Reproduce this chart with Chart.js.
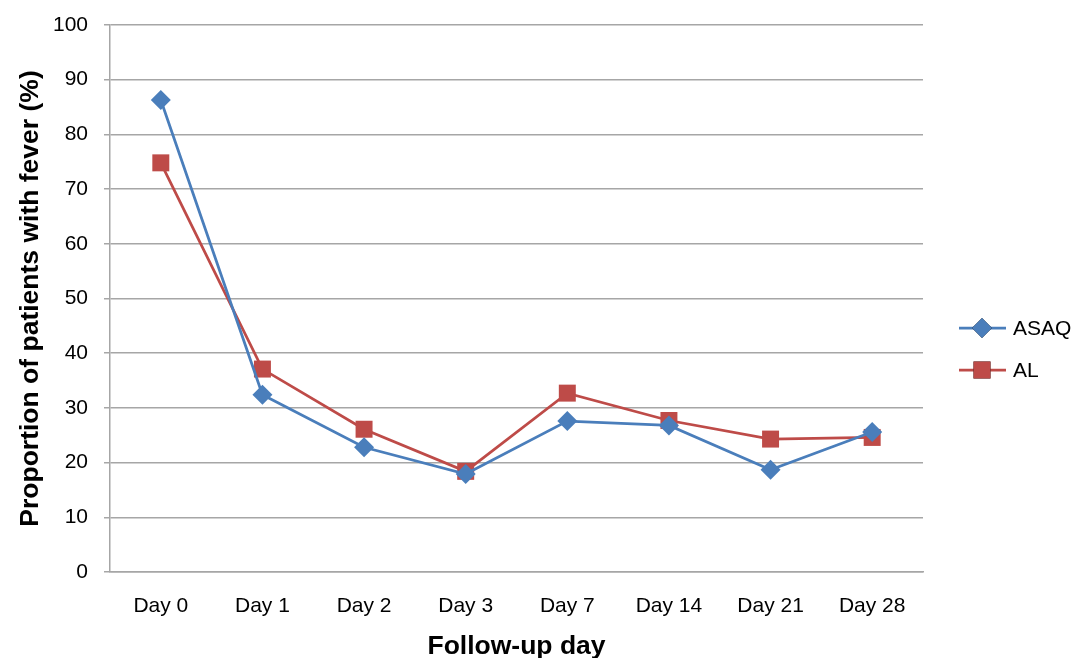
<!DOCTYPE html>
<html>
<head>
<meta charset="utf-8">
<script src="https://cdn.jsdelivr.net/npm/chart.js@4"></script>
<style>
  html, body { margin: 0; padding: 0; background: #fff; }
  #wrap { width: 1073px; height: 658px; position: relative; }
</style>
</head>
<body>
<div id="wrap"><canvas id="feverChart" width="1073" height="658"></canvas></div>
<script>
// data
const days = ["Day 0", "Day 1", "Day 2", "Day 3", "Day 7", "Day 14", "Day 21", "Day 28"];
const asaqValues = [86.3, 32.4, 22.8, 17.9, 27.6, 26.8, 18.7, 25.6];
const alValues = [74.8, 37.1, 26.1, 18.4, 32.7, 27.7, 24.3, 24.6];
const seriesNames = ["ASAQ", "AL"];

const BLUE = "#4a7ebb";
const RED = "#be4b48";
const FONT = "'Liberation Sans', Arial, sans-serif";

// legend drawn by hand: Excel-style line + marker sample
const sideLegend = {
    id: "sideLegend",
    afterDraw(chart) {
        const ctx = chart.ctx;
        const rowsY = [328, 370];
        chart.data.datasets.forEach((ds, i) => {
            const y = rowsY[i];
            ctx.save();
            ctx.strokeStyle = ds.borderColor;
            ctx.lineWidth = ds.borderWidth;
            ctx.beginPath();
            ctx.moveTo(959, y);
            ctx.lineTo(1006, y);
            ctx.stroke();
            Chart.helpers.drawPoint(ctx, {
                pointStyle: ds.pointStyle,
                radius: ds.pointRadius,
                borderWidth: 0
            }, 982, y);
            ctx.fillStyle = ds.pointBackgroundColor;
            ctx.fill();
            ctx.fillStyle = "#000";
            ctx.font = "21px " + FONT;
            ctx.textBaseline = "middle";
            ctx.textAlign = "left";
            ctx.fillText(ds.label, 1013, y + 1);
            ctx.restore();
        });
    }
};

new Chart(document.getElementById("feverChart"), {
    type: "line",
    data: {
        labels: days,
        datasets: [
            {
                label: seriesNames[0],
                data: asaqValues,
                borderColor: BLUE,
                backgroundColor: BLUE,
                pointBackgroundColor: BLUE,
                pointBorderColor: BLUE,
                pointBorderWidth: 0,
                borderWidth: 2.75,
                pointStyle: "rectRot",
                pointRadius: 10,
                tension: 0
            },
            {
                label: seriesNames[1],
                data: alValues,
                borderColor: RED,
                backgroundColor: RED,
                pointBackgroundColor: RED,
                pointBorderColor: RED,
                pointBorderWidth: 0,
                borderWidth: 2.75,
                pointStyle: "rect",
                pointRadius: 12,
                tension: 0
            }
        ]
    },
    options: {
        responsive: false,
        animation: false,
        layout: { padding: { top: 25, right: 150, left: 0, bottom: 0 } },
        plugins: {
            legend: { display: false },
            tooltip: { enabled: false }
        },
        scales: {
            x: {
                offset: true,
                grid: { display: false },
                border: { color: "#a6a6a6", width: 1.5 },
                ticks: { color: "#000", font: { family: FONT, size: 21 }, padding: 14, maxRotation: 0 },
                title: {
                    display: true,
                    text: "Follow-up day",
                    color: "#000",
                    font: { family: FONT, size: 26.5, weight: "bold" },
                    padding: { top: 0, bottom: -5 }
                },
                afterFit(scale) {
                    scale.height = 86;
                    scale.paddingLeft = 0;
                    scale.paddingRight = 0;
                }
            },
            y: {
                min: 0,
                max: 100,
                ticks: { stepSize: 10, color: "#000", font: { family: FONT, size: 21 }, padding: 16 },
                grid: { color: "#a6a6a6", lineWidth: 1.5, tickLength: 6 },
                border: { color: "#a6a6a6", width: 1.5 },
                title: {
                    display: true,
                    text: "Proportion of patients with fever (%)",
                    color: "#000",
                    font: { family: FONT, size: 26.5, weight: "bold" },
                    padding: { top: 15, bottom: 0 }
                },
                afterFit(scale) {
                    scale.width = 110;
                    scale.paddingTop = 0;
                    scale.paddingBottom = 0;
                }
            }
        }
    },
    plugins: [sideLegend]
});
</script>
</body>
</html>
